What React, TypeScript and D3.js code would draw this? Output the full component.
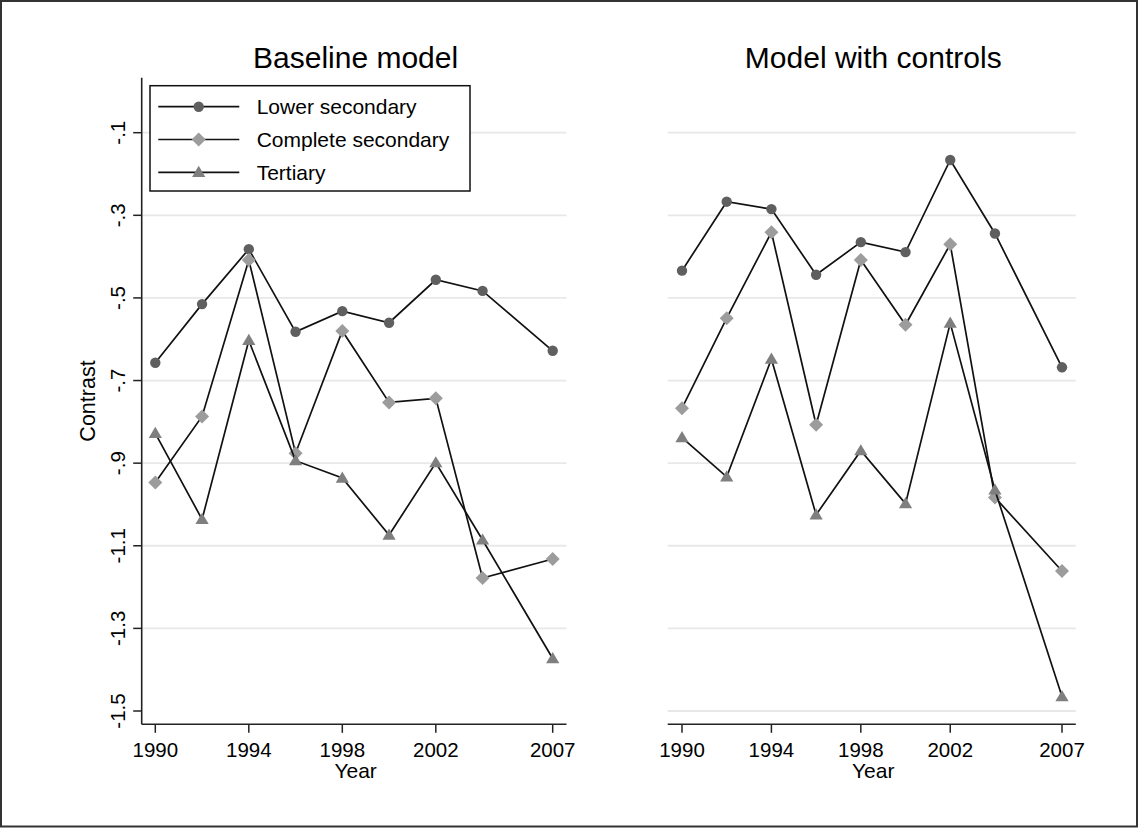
import React from "react";
import * as d3 from "d3";

const years = [1990, 1992, 1994, 1996, 1998, 2000, 2002, 2004, 2007];
const baseLower = [-0.657, -0.515, -0.382, -0.582, -0.532, -0.56, -0.456, -0.483, -0.628];
const baseComplete = [-0.947, -0.787, -0.408, -0.876, -0.58, -0.753, -0.743, -1.178, -1.132];
const baseTertiary = [-0.828, -1.036, -0.603, -0.894, -0.936, -1.074, -0.899, -1.086, -1.373];
const ctrlLower = [-0.434, -0.267, -0.285, -0.444, -0.365, -0.389, -0.166, -0.344, -0.668];
const ctrlComplete = [-0.767, -0.549, -0.341, -0.807, -0.408, -0.565, -0.37, -0.983, -1.161];
const ctrlTertiary = [-0.838, -0.933, -0.648, -1.025, -0.87, -0.998, -0.561, -0.965, -1.465];

const xTicks = [1990, 1994, 1998, 2002, 2007];
const yTicks = [-1.5, -1.3, -1.1, -0.9, -0.7, -0.5, -0.3, -0.1];
const yTickLabels = ["-1.5", "-1.3", "-1.1", "-.9", "-.7", "-.5", "-.3", "-.1"];
const seriesNames = ["Lower secondary", "Complete secondary", "Tertiary"];
const markerTypes = ["circle", "diamond", "triangle"];
const markerColors = ["#5f5f5f", "#9c9c9c", "#7f7f7f"];

const FONT = "'Liberation Sans', Arial, Helvetica, sans-serif";

const yScale = d3.scaleLinear().domain([-1.5, -0.1]).range([711, 132.7]);
const PLOT_TOP = 77.7;
const PLOT_BOTTOM = 724.3;

function Marker({ type, x, y, color }: { type: string; x: number; y: number; color: string }) {
  if (type === "circle") return <circle cx={x} cy={y} r={5.2} fill={color} />;
  if (type === "diamond") {
    const s = 7;
    return <path d={`M${x},${y - s}L${x + s},${y}L${x},${y + s}L${x - s},${y}Z`} fill={color} />;
  }
  const s = 6.6;
  return <path d={`M${x},${y - s}L${x + s},${y + 4.6}L${x - s},${y + 4.6}Z`} fill={color} />;
}

function Panel({
  x0, x1, xr0, xr1, title, series, showYAxis, gridTicks,
}: {
  x0: number; x1: number; xr0: number; xr1: number; title: string;
  series: number[][]; showYAxis: boolean; gridTicks: number[];
}) {
  const xScale = d3.scaleLinear().domain([1990, 2007]).range([xr0, xr1]);
  const line = d3
    .line<[number, number]>()
    .x((d) => xScale(d[0]))
    .y((d) => yScale(d[1]));
  const cx = (x0 + x1) / 2 + 1.5;
  return (
    <g>
      {gridTicks.map((t) => (
        <line key={t} x1={x0} x2={x1} y1={yScale(t)} y2={yScale(t)} stroke="#e8e8e8" strokeWidth={1.8} />
      ))}
      <text x={cx} y={68.3} textAnchor="middle" fontSize={30} fontFamily={FONT} fill="#000">
        {title}
      </text>
      {/* x axis */}
      <line x1={x0} x2={x1} y1={PLOT_BOTTOM} y2={PLOT_BOTTOM} stroke="#222" strokeWidth={1.6} />
      {xTicks.map((t) => (
        <g key={t}>
          <line x1={xScale(t)} x2={xScale(t)} y1={PLOT_BOTTOM} y2={PLOT_BOTTOM + 8.5} stroke="#222" strokeWidth={1.5} />
          <text x={xScale(t)} y={757.3} textAnchor="middle" fontSize={20.5} fontFamily={FONT} fill="#000">
            {t}
          </text>
        </g>
      ))}
      <text x={(x0 + x1) / 2 + 1.5} y={778} textAnchor="middle" fontSize={21} fontFamily={FONT} fill="#000">
        Year
      </text>
      {showYAxis && (
        <g>
          <line x1={x0} x2={x0} y1={PLOT_TOP} y2={PLOT_BOTTOM} stroke="#222" strokeWidth={1.6} />
          {yTicks.map((t, i) => (
            <g key={t}>
              <line x1={x0 - 8.5} x2={x0} y1={yScale(t)} y2={yScale(t)} stroke="#222" strokeWidth={1.5} />
              <text
                transform={`translate(125,${yScale(t)}) rotate(-90)`}
                textAnchor="middle"
                fontSize={20.5}
                fontFamily={FONT}
                fill="#000"
              >
                {yTickLabels[i]}
              </text>
            </g>
          ))}
          <text
            transform={`translate(95,${(PLOT_TOP + PLOT_BOTTOM) / 2}) rotate(-90)`}
            textAnchor="middle"
            fontSize={21.5}
            fontFamily={FONT}
            fill="#000"
          >
            Contrast
          </text>
        </g>
      )}
      {series.map((vals, si) => {
        const pts: [number, number][] = years.map((yr, i) => [yr, vals[i]]);
        return (
          <g key={si}>
            <path d={line(pts) || ""} fill="none" stroke="#111" strokeWidth={1.7} strokeLinejoin="miter" />
            {pts.map((p, i) => (
              <Marker key={i} type={markerTypes[si]} x={xScale(p[0])} y={yScale(p[1])} color={markerColors[si]} />
            ))}
          </g>
        );
      })}
    </g>
  );
}

function Legend() {
  const lx = 150, ly = 85.7, lw = 320, lh = 105.3;
  return (
    <g>
      <rect x={lx} y={ly} width={lw} height={lh} fill="#fff" stroke="#111" strokeWidth={1.5} />
      {seriesNames.map((name, i) => {
        const y = 106.7 + i * 32.8;
        return (
          <g key={name}>
            <line x1={158.3} x2={239.3} y1={y} y2={y} stroke="#111" strokeWidth={1.7} />
            <Marker type={markerTypes[i]} x={198.7} y={y} color={markerColors[i]} />
            <text x={256.7} y={y + 7.6} fontSize={21} fontFamily={FONT} fill="#000">
              {name}
            </text>
          </g>
        );
      })}
    </g>
  );
}

export default function App() {
  return (
    <svg
      width={1139}
      height={828}
      style={{ position: "absolute", left: 0, top: 0, background: "#fff" }}
    >
      <rect x={0} y={0} width={1139} height={828} fill="#fff" />
      <Panel
        x0={141.7}
        x1={566.5}
        xr0={155.3}
        xr1={552.7}
        title="Baseline model"
        series={[baseLower, baseComplete, baseTertiary]}
        showYAxis={true}
        gridTicks={yTicks.filter((t) => t !== -1.5)}
      />
      <Panel
        x0={667.7}
        x1={1075.8}
        xr0={682}
        xr1={1062}
        title="Model with controls"
        series={[ctrlLower, ctrlComplete, ctrlTertiary]}
        showYAxis={false}
        gridTicks={yTicks}
      />
      <Legend />
      <rect x={1} y={1} width={1136} height={825.5} fill="none" stroke="#333" strokeWidth={2} />
    </svg>
  );
}
